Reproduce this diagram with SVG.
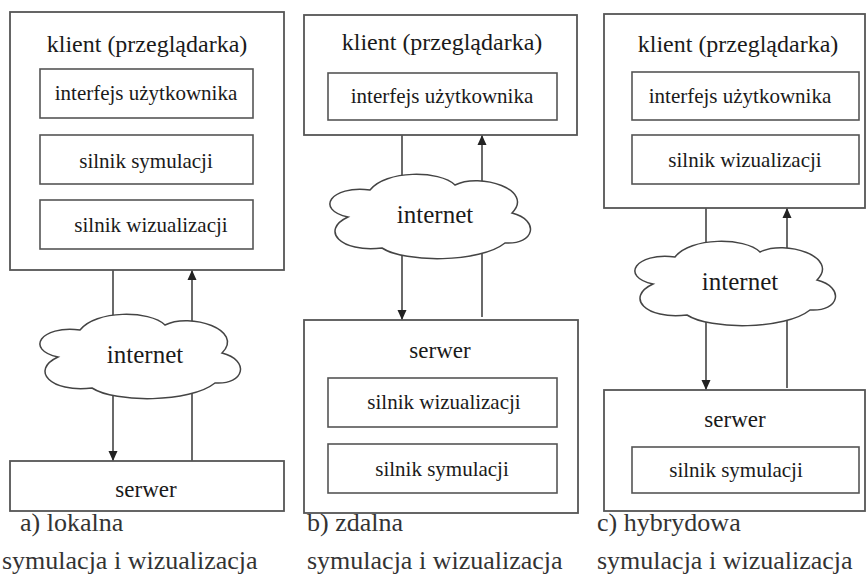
<svg xmlns="http://www.w3.org/2000/svg" xmlns:xlink="http://www.w3.org/1999/xlink" width="866" height="579" viewBox="0 0 866 579">
<style>
.box{fill:#fff;stroke:#555;stroke-width:1.8}
.ibox{fill:#fff;stroke:#555;stroke-width:1.6}
.cloud{fill:#fff;stroke:#444;stroke-width:1.5}
.t{font-family:'Liberation Serif','Times New Roman',Times,'Nimbus Roman','FreeSerif','Noto Serif','DejaVu Serif',serif;fill:#1a1a1a;text-anchor:middle}
.title{font-size:24px}
.in{font-size:21px}
.net{font-size:25px}
.srv{font-size:23px}
.cap{font-family:'Liberation Serif','Times New Roman',Times,'Nimbus Roman','FreeSerif','Noto Serif','DejaVu Serif',serif;fill:#333;font-size:26px}
.conn{stroke:#444;stroke-width:1.6;fill:none}
</style>
<defs>
<marker id="arr" markerWidth="10" markerHeight="10" refX="10" refY="5" orient="auto" markerUnits="userSpaceOnUse">
<path d="M0,0.5 L10,5 L0,9.5 z" fill="#222"/>
</marker>
<path id="cloudShape" d="M58,357 C25,350 40,325 80,330 C95,310 150,310 165,325 C190,312 245,330 222,353 C250,360 245,385 215,383 C190,403 115,403 92,388 C50,393 30,370 58,357 Z"/>
</defs>

<g id="connectors">
<line class="conn" x1="113" y1="270" x2="113" y2="461" marker-end="url(#arr)"/>
<line class="conn" x1="192" y1="461" x2="192" y2="270" marker-end="url(#arr)"/>
<line class="conn" x1="402" y1="135" x2="402" y2="320" marker-end="url(#arr)"/>
<line class="conn" x1="482" y1="317" x2="482" y2="135" marker-end="url(#arr)"/>
<line class="conn" x1="706" y1="208" x2="706" y2="390" marker-end="url(#arr)"/>
<line class="conn" x1="787" y1="388" x2="787" y2="208" marker-end="url(#arr)"/>
</g>

<!-- Panel a -->
<g id="a-client">
<rect class="box" x="10" y="12" width="274" height="258"/>
<text class="t title" x="147" y="52">klient (przeglądarka)</text>
</g>
<g id="a-ui">
<rect class="ibox" x="40" y="69" width="213" height="49"/>
<text class="t in" x="146" y="100">interfejs użytkownika</text>
</g>
<g id="a-sim">
<rect class="ibox" x="40" y="135" width="213" height="49"/>
<text class="t in" x="146" y="168">silnik symulacji</text>
</g>
<g id="a-vis">
<rect class="ibox" x="40" y="200" width="213" height="49"/>
<text class="t in" x="151" y="232">silnik wizualizacji</text>
</g>
<g id="a-internet">
<use xlink:href="#cloudShape" class="cloud"/>
<text class="t net" x="145" y="363">internet</text>
</g>
<g id="a-server">
<rect class="box" x="10" y="461" width="274" height="50"/>
<text class="t srv" x="146" y="497">serwer</text>
</g>
<g id="a-caption">
<text class="cap" x="20" y="531">a) lokalna</text>
<text class="cap" x="2" y="569">symulacja i wizualizacja</text>
</g>

<!-- Panel b -->
<g id="b-client">
<rect class="box" x="304" y="15" width="273" height="120"/>
<text class="t title" x="442" y="50">klient (przeglądarka)</text>
</g>
<g id="b-ui">
<rect class="ibox" x="328" y="73" width="229" height="47"/>
<text class="t in" x="442" y="103">interfejs użytkownika</text>
</g>
<g id="b-internet">
<use xlink:href="#cloudShape" class="cloud" transform="translate(290,-140)"/>
<text class="t net" x="435" y="223">internet</text>
</g>
<g id="b-server">
<rect class="box" x="304" y="320" width="274" height="193"/>
<text class="t srv" x="440" y="358">serwer</text>
</g>
<g id="b-vis">
<rect class="ibox" x="328" y="378" width="229" height="49"/>
<text class="t in" x="444" y="409">silnik wizualizacji</text>
</g>
<g id="b-sim">
<rect class="ibox" x="328" y="444" width="229" height="49"/>
<text class="t in" x="442" y="476">silnik symulacji</text>
</g>
<g id="b-caption">
<text class="cap" x="307" y="531">b) zdalna</text>
<text class="cap" x="307" y="569">symulacja i wizualizacja</text>
</g>

<!-- Panel c -->
<g id="c-client">
<rect class="box" x="604" y="14" width="261" height="194"/>
<text class="t title" x="738" y="52">klient (przeglądarka)</text>
</g>
<g id="c-ui">
<rect class="ibox" x="632" y="72" width="227" height="48"/>
<text class="t in" x="740" y="103">interfejs użytkownika</text>
</g>
<g id="c-vis">
<rect class="ibox" x="632" y="135" width="227" height="49"/>
<text class="t in" x="745" y="167">silnik wizualizacji</text>
</g>
<g id="c-internet">
<use xlink:href="#cloudShape" class="cloud" transform="translate(595,-73)"/>
<text class="t net" x="740" y="290">internet</text>
</g>
<g id="c-server">
<rect class="box" x="604" y="390" width="261" height="121"/>
<text class="t srv" x="735" y="427">serwer</text>
</g>
<g id="c-sim">
<rect class="ibox" x="632" y="447" width="227" height="46"/>
<text class="t in" x="736" y="477">silnik symulacji</text>
</g>
<g id="c-caption">
<text class="cap" x="597" y="531">c) hybrydowa</text>
<text class="cap" x="597" y="569">symulacja i wizualizacja</text>
</g>
</svg>
